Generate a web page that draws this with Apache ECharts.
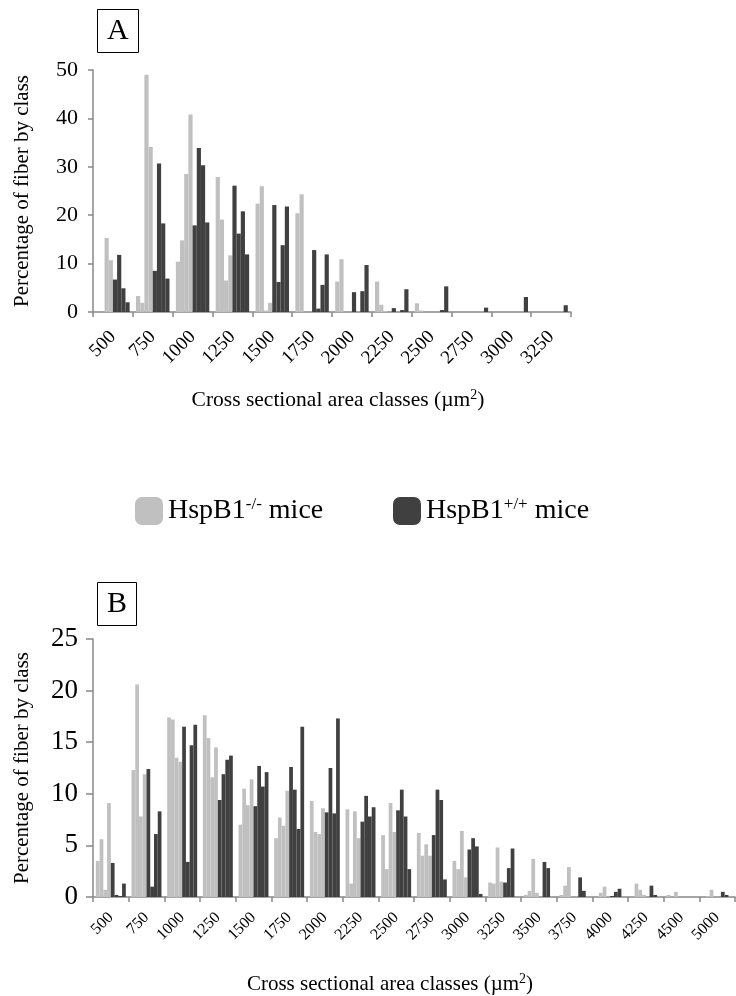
<!DOCTYPE html>
<html><head><meta charset="utf-8">
<script src="https://cdn.jsdelivr.net/npm/echarts@6/dist/echarts.min.js"></script>
<style>html,body{margin:0;padding:0;background:#fff}#c{width:736px;height:996px}</style>
</head><body><div id="c"></div>
<script>
// Panel A categories (cross sectional area classes, µm²)
const catsA = ['500','750','1000','1250','1500','1750','2000','2250','2500','2750','3000','3250'];
// Panel A, HspB1-/- mice (4 animals)
const koA1 = [0, 3.3, 10.4, 27.9, 22.4, 20.4, 6.3, 6.3, 1.8, 0, 0, 0];
const koA2 = [0, 1.9, 14.8, 19.1, 26.0, 24.3, 10.9, 1.5, 0.3, 0, 0, 0];
const koA3 = [15.3, 49.0, 28.5, 6.5, 0.3, 0, 0, 0.2, 0, 0, 0, 0];
const koA4 = [10.7, 34.1, 40.8, 11.7, 1.9, 0, 0, 0, 0, 0, 0, 0];
// Panel A, HspB1+/+ mice (4 animals)
const wtA1 = [6.7, 8.5, 17.9, 26.1, 22.1, 12.8, 4.1, 0.8, 0, 0, 0, 0];
const wtA2 = [11.8, 30.7, 33.9, 16.2, 6.2, 0.7, 0, 0, 0, 0, 0, 0];
const wtA3 = [4.9, 18.3, 30.3, 20.8, 13.8, 5.6, 4.3, 0.4, 0.4, 0, 0, 0];
const wtA4 = [2.0, 6.9, 18.5, 11.9, 21.8, 11.9, 9.7, 4.7, 5.3, 0.9, 3.1, 1.4];

// Panel B categories
const catsB = ['500','750','1000','1250','1500','1750','2000','2250','2500','2750','3000','3250','3500','3750','4000','4250','4500','5000'];
const koB1 = [3.5, 12.3, 17.4, 17.6, 7.0, 5.7, 9.3, 8.5, 6.0, 6.2, 3.5, 1.4, 0.2, 0.2, 0, 0, 0.2, 0];
const koB2 = [5.6, 20.6, 17.2, 15.4, 10.5, 7.7, 6.3, 1.3, 2.7, 4.0, 2.7, 1.3, 0.6, 1.1, 0.4, 1.3, 0, 0.1];
const koB3 = [0.7, 7.8, 13.5, 11.6, 8.9, 6.9, 6.1, 8.3, 9.1, 5.1, 6.4, 4.8, 3.7, 2.9, 1.0, 0.7, 0.5, 0.7];
const koB4 = [9.1, 11.9, 13.1, 14.5, 11.4, 10.3, 8.6, 5.7, 6.3, 4.0, 1.9, 1.5, 0.4, 0, 0, 0.2, 0, 0];
const wtB1 = [3.3, 12.4, 16.5, 9.4, 8.8, 12.6, 8.2, 7.3, 8.4, 6.0, 4.6, 1.4, 0, 0, 0.1, 0, 0, 0];
const wtB2 = [0.2, 1.0, 3.4, 11.9, 12.7, 10.4, 12.5, 9.8, 10.4, 10.4, 5.7, 2.8, 3.4, 1.9, 0.5, 1.1, 0, 0.5];
const wtB3 = [0.1, 6.1, 14.7, 13.3, 10.7, 6.6, 8.1, 7.8, 7.8, 9.4, 4.9, 4.7, 2.8, 0.6, 0.8, 0.2, 0, 0.2];
const wtB4 = [1.3, 8.3, 16.7, 13.7, 12.1, 16.5, 17.3, 8.7, 2.7, 1.7, 0.3, 0, 0, 0, 0, 0, 0, 0];

const KO = 'HspB1-/- mice';
const WT = 'HspB1+/+ mice';
const LIGHT = '#c0c0c0';
const DARK = '#404040';
const AXIS = '#888888';
const FONT = '"Liberation Serif", "Times New Roman", serif';

function barSeries(name, color, data, idx) {
  return {
    type: 'bar', name: name, data: data,
    xAxisIndex: idx, yAxisIndex: idx,
    barGap: '0%', barCategoryGap: '16%',
    itemStyle: { color: color },
    silent: true, animation: false
  };
}

const series = [];
[koA1, koA2, koA3, koA4].forEach(d => series.push(barSeries(KO, LIGHT, d, 0)));
[wtA1, wtA2, wtA3, wtA4].forEach(d => series.push(barSeries(WT, DARK, d, 0)));
[koB1, koB2, koB3, koB4].forEach(d => series.push(barSeries(KO, LIGHT, d, 1)));
[wtB1, wtB2, wtB3, wtB4].forEach(d => series.push(barSeries(WT, DARK, d, 1)));

const xName = '{t|Cross sectional area classes (µm}{s|2}{t|)}';
function xAxisCfg(cats, grid, labelSize, margin, nameGap, nameSize, namePad) {
  return {
    type: 'category', data: cats, gridIndex: grid,
    axisLine: { lineStyle: { color: AXIS, width: 1.5 } },
    axisTick: { show: true, length: 5, lineStyle: { color: AXIS, width: 1.5 } },
    axisLabel: { interval: 0, rotate: 45, color: '#000', fontFamily: FONT, fontSize: labelSize, margin: margin },
    name: xName, nameLocation: 'middle', nameGap: nameGap,
    nameTextStyle: {
      color: '#000', fontFamily: FONT, fontSize: nameSize, verticalAlign: 'top', padding: namePad,
      rich: {
        t: { fontFamily: FONT, fontSize: nameSize, color: '#000', lineHeight: nameSize + 4 },
        s: { fontFamily: FONT, fontSize: Math.round(nameSize * 0.65), color: '#000', verticalAlign: 'top', lineHeight: nameSize + 4 }
      }
    }
  };
}
function yAxisCfg(grid, max, interval, labelSize, nameSize, tickLen) {
  return {
    type: 'value', gridIndex: grid, min: 0, max: max, interval: interval,
    splitLine: { show: false },
    axisLine: { show: true, lineStyle: { color: AXIS, width: 1.5 } },
    axisTick: { show: true, length: tickLen, lineStyle: { color: AXIS, width: 1.5 } },
    axisLabel: { color: '#000', fontFamily: FONT, fontSize: labelSize, margin: 15 },
    name: 'Percentage of fiber by class', nameLocation: 'middle', nameRotate: 90, nameGap: 60,
    nameTextStyle: { color: '#000', fontFamily: FONT, fontSize: nameSize }
  };
}

function legendCfg(name, left) {
  return {
    data: [name], left: left, top: 491, icon: 'roundRect',
    itemWidth: 28, itemHeight: 28, selectedMode: false,
    formatter: n => n === KO ? '{t|HspB1}{s|-/-}{t| mice}' : '{t|HspB1}{s|+/+}{t| mice}',
    textStyle: {
      color: '#000', fontFamily: FONT, fontSize: 28,
      rich: {
        t: { fontFamily: FONT, fontSize: 28, color: '#000', lineHeight: 30 },
        s: { fontFamily: FONT, fontSize: 17, color: '#000', verticalAlign: 'top', lineHeight: 30 }
      }
    }
  };
}

function boxTitle(text, left, top) {
  return {
    text: text, left: left, top: top,
    borderColor: '#000', borderWidth: 1, padding: [6, 10, 6, 10],
    textStyle: { color: '#000', fontFamily: FONT, fontSize: 30, fontWeight: 'normal', lineHeight: 32 }
  };
}

const chart = echarts.init(document.getElementById('c'), null, { renderer: 'canvas' });
chart.setOption({
  backgroundColor: '#fff',
  animation: false,
  title: [boxTitle('A', 97, 9), boxTitle('B', 97, 582)],
  legend: [legendCfg(KO, 130), legendCfg(WT, 388)],
  grid: [
    { left: 93, top: 70, width: 478, height: 242 },
    { left: 93, top: 639, width: 642, height: 258 }
  ],
  xAxis: [
    xAxisCfg(catsA, 0, 19, 22, 76, 21.5, [0, 0, 0, 12]),
    xAxisCfg(catsB, 1, 16, 18, 75, 21, [0, 48, 0, 0])
  ],
  yAxis: [
    yAxisCfg(0, 50, 10, 22, 21, 5),
    yAxisCfg(1, 25, 5, 27, 21, 7)
  ],
  series: series
});
</script>
</body></html>
